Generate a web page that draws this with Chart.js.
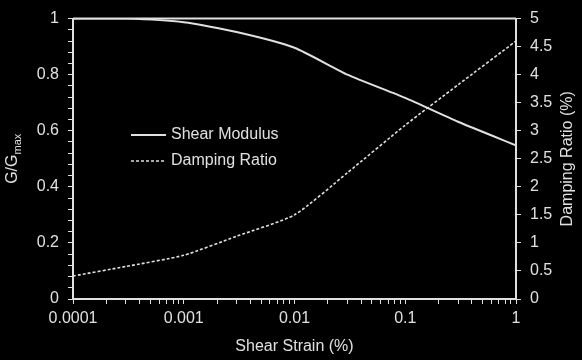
<!DOCTYPE html>
<html>
<head>
<meta charset="utf-8">
<script src="https://cdn.jsdelivr.net/npm/chart.js@4/dist/chart.umd.min.js"></script>
<style>
  html, body { margin: 0; padding: 0; background: #000; }
  #wrap { width: 582px; height: 360px; }
</style>
</head>
<body>
<div id="wrap"><canvas id="curveChart" width="582" height="360"></canvas></div>
<script>
// values
const strain = [0.0001, 0.0003, 0.001, 0.003, 0.01, 0.03, 0.1, 0.3, 1];
const modulus = [1.0, 1.0, 0.987, 0.952, 0.896, 0.80, 0.717, 0.632, 0.548];
const damping = [0.41, 0.58, 0.78, 1.12, 1.5, 2.25, 3.1, 3.82, 4.6];

const xTickLabels = ['0.0001', '0.001', '0.01', '0.1', '1'];
const leftTickLabels = ['0', '0.2', '0.4', '0.6', '0.8', '1'];
const rightTickLabels = ['0', '0.5', '1', '1.5', '2', '2.5', '3', '3.5', '4', '4.5', '5'];

const seriesNames = ['Shear Modulus', 'Damping Ratio'];
const xTitle = 'Shear Strain (%)';
const rightTitle = 'Damping Ratio (%)';

const ink = '#e0e0e0';
const font = "'Liberation Sans', Arial, sans-serif";

const ctx = document.getElementById('curveChart').getContext('2d');

// black page, frame, legend and axis titles
const decorations = {
  id: 'decorations',
  beforeDraw(chart) {
    const c = chart.ctx;
    c.save();
    c.fillStyle = '#000';
    c.fillRect(0, 0, chart.width, chart.height);
    c.restore();
  },
  afterDraw(chart) {
    const c = chart.ctx;
    const a = chart.chartArea;
    c.save();
    // top edge of the frame
    c.strokeStyle = ink;
    c.lineWidth = 2;
    c.beginPath();
    c.moveTo(a.left, a.top);
    c.lineTo(a.right, a.top);
    c.stroke();

    // legend
    c.font = '16px ' + font;
    c.fillStyle = ink;
    c.textBaseline = 'middle';
    c.textAlign = 'left';
    chart.data.datasets.forEach((ds, i) => {
      const y = 135 + i * 26;
      c.strokeStyle = ds.borderColor;
      c.lineWidth = ds.borderWidth;
      c.setLineDash(ds.borderDash || []);
      c.beginPath();
      c.moveTo(131, y);
      c.lineTo(166, y);
      c.stroke();
      c.setLineDash([]);
      c.fillText(ds.label, 171, y);
    });

    // x title
    c.textAlign = 'center';
    c.fillText(xTitle, (a.left + a.right) / 2, 347);

    // right title, reads bottom to top
    c.save();
    c.translate(568, (a.top + a.bottom) / 2);
    c.rotate(-Math.PI / 2);
    c.fillText(rightTitle, 0, 0);
    c.restore();

    // left title with subscript
    c.save();
    c.translate(13, (a.top + a.bottom) / 2);
    c.rotate(-Math.PI / 2);
    c.textAlign = 'left';
    const main = 'G/G';
    c.font = '16px ' + font;
    const w1 = c.measureText(main).width;
    c.font = '11px ' + font;
    const w2 = c.measureText('max').width;
    const x0 = -(w1 + w2) / 2;
    c.font = '16px ' + font;
    c.fillText(main, x0, 0);
    c.font = '11px ' + font;
    c.fillText('max', x0 + w1, 5);
    c.restore();

    c.restore();
  }
};

function isDecade(v) {
  const l = Math.log10(v);
  return Math.abs(l - Math.round(l)) < 1e-9;
}

new Chart(ctx, {
  type: 'line',
  data: {
    datasets: [{
      label: seriesNames[0],
      data: strain.map((s, i) => ({ x: s, y: modulus[i] })),
      yAxisID: 'y',
      borderColor: ink,
      borderWidth: 2,
      pointRadius: 0,
      tension: 0.2,
      fill: false
    }, {
      label: seriesNames[1],
      data: strain.map((s, i) => ({ x: s, y: damping[i] })),
      yAxisID: 'y2',
      borderColor: ink,
      borderWidth: 1.6,
      borderDash: [3, 2],
      pointRadius: 0,
      tension: 0.2,
      fill: false
    }]
  },
  options: {
    responsive: false,
    animation: false,
    layout: { padding: { top: 12, left: 0, right: 0, bottom: 0 } },
    plugins: {
      legend: { display: false },
      tooltip: { enabled: false }
    },
    scales: {
      x: {
        type: 'logarithmic',
        position: 'bottom',
        min: 0.0001,
        max: 1,
        afterBuildTicks(scale) {
          const ticks = [];
          for (let e = -4; e < 0; e++) {
            for (let m = 1; m <= 9; m++) ticks.push({ value: m * Math.pow(10, e) });
          }
          ticks.push({ value: 1 });
          scale.ticks = ticks;
        },
        afterFit(scale) { scale.height = 61; },
        grid: { drawOnChartArea: false, drawTicks: true, tickLength: 5, color: ink, lineWidth: 1 },
        border: { display: true, color: ink, width: 2 },
        ticks: {
          color: ink,
          font: { size: 16, family: font },
          padding: 5,
          autoSkip: false,
          maxRotation: 0,
          callback(v) {
            if (!isDecade(v)) return '';
            return xTickLabels[Math.round(Math.log10(v)) + 4];
          }
        }
      },
      y: {
        type: 'linear',
        position: 'left',
        min: 0,
        max: 1,
        afterFit(scale) { scale.width = 73; },
        grid: { drawOnChartArea: false, drawTicks: true, tickLength: 5, color: ink, lineWidth: 1 },
        border: { display: true, color: ink, width: 2 },
        ticks: {
          color: ink,
          font: { size: 16, family: font },
          padding: 9,
          stepSize: 0.04,
          autoSkip: false,
          callback(v) {
            const k = v * 5;
            if (Math.abs(k - Math.round(k)) > 1e-6) return '';
            return leftTickLabels[Math.round(k)];
          }
        }
      },
      y2: {
        type: 'linear',
        position: 'right',
        min: 0,
        max: 5,
        afterFit(scale) { scale.width = 66; },
        grid: { drawOnChartArea: false, drawTicks: true, tickLength: 5, color: ink, lineWidth: 1 },
        border: { display: true, color: ink, width: 2 },
        ticks: {
          color: ink,
          font: { size: 16, family: font },
          padding: 9,
          stepSize: 0.5,
          autoSkip: false,
          callback(v) {
            return rightTickLabels[Math.round(v * 2)];
          }
        }
      }
    }
  },
  plugins: [decorations]
});
</script>
</body>
</html>
